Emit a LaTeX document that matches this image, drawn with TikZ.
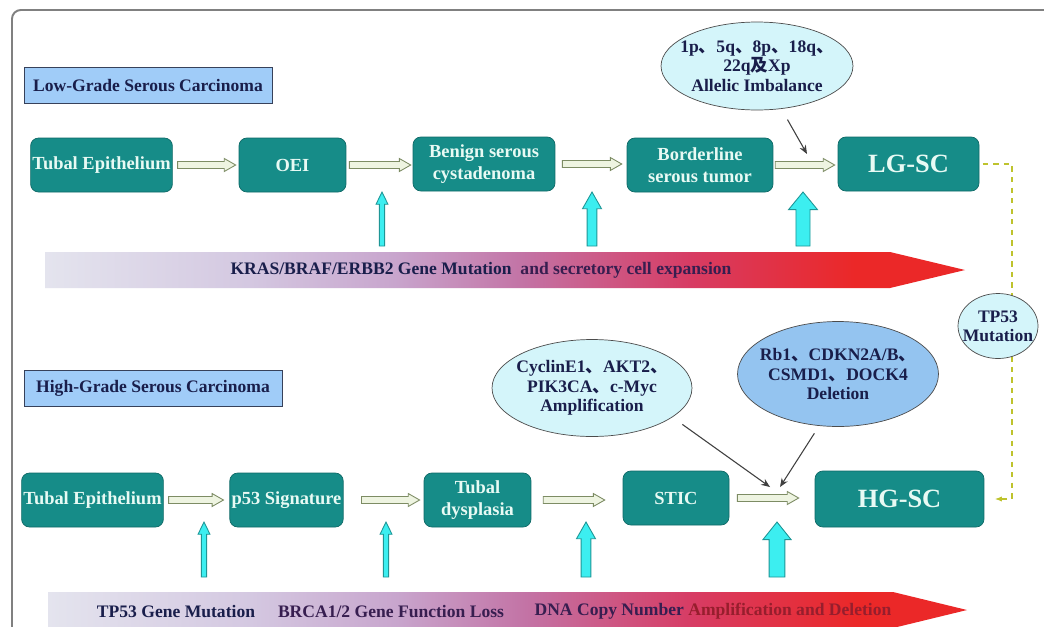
\documentclass[tikz,border=0pt]{standalone}
\usepackage{fontspec}
\setmainfont{Liberation Serif}
\newfontfamily\cjk{Noto Sans CJK SC}
\usetikzlibrary{shapes.geometric,arrows.meta,calc}

\definecolor{boxteal}{RGB}{22,140,136}
\definecolor{boxedge}{RGB}{14,105,102}
\definecolor{boxtext}{RGB}{232,250,244}
\definecolor{titlefill}{RGB}{160,204,248}
\definecolor{titleedge}{RGB}{55,65,90}
\definecolor{navytext}{RGB}{25,30,75}
\definecolor{gentext}{RGB}{55,30,80}
\definecolor{redtext}{RGB}{150,30,45}
\definecolor{pale}{RGB}{212,245,250}
\definecolor{paleblue}{RGB}{148,196,240}
\definecolor{hollowedge}{RGB}{125,140,100}
\definecolor{hollowfill}{RGB}{238,244,225}
\definecolor{cyanfill}{RGB}{60,238,240}
\definecolor{cyanedge}{RGB}{30,150,150}
\definecolor{mutline}{RGB}{190,195,45}
\definecolor{framegray}{RGB}{128,128,128}
\definecolor{bn0}{RGB}{228,228,238}
\definecolor{bn1}{RGB}{212,200,225}
\definecolor{bn2}{RGB}{200,165,205}
\definecolor{bn3}{RGB}{195,115,165}
\definecolor{bn4}{RGB}{215,60,100}
\definecolor{bn5}{RGB}{235,40,40}
\pgfdeclarehorizontalshading{banner}{100bp}{color(0bp)=(bn0); color(25bp)=(bn0); color(36bp)=(bn1); color(44bp)=(bn2); color(51bp)=(bn3); color(60bp)=(bn4); color(69bp)=(bn5); color(100bp)=(bn5)}

\begin{document}
\begin{tikzpicture}[
   x=0.02cm, y=-0.02cm,
   font=\bfseries,
   state/.style={draw=boxedge,fill=boxteal,text=boxtext,rounded corners=4.5pt,align=center,inner sep=1pt,minimum height=1.08cm,font=\bfseries\fontsize{10.5}{12.5}\selectfont},
   big/.style={font=\bfseries\fontsize{15}{18}\selectfont},
   heading/.style={draw=titleedge,fill=titlefill,text=navytext,minimum height=0.72cm,inner sep=1pt},
   gene/.style={ellipse,draw=black!70,fill=pale,text=navytext,align=center,inner sep=-5pt,font=\bfseries\fontsize{10}{11}\selectfont},
   bantext/.style={inner sep=0pt,font=\bfseries\fontsize{10}{12}\selectfont},
   to/.style={-{Stealth[length=5pt,width=4pt]},draw=black!75,semithick},
   hollow/.style={draw=hollowedge,fill=hollowfill,line width=0.5pt,
      to path={let \p1=(\tikztostart), \p2=(\tikztotarget) in
         (\x1,\y1+2pt) -- (\x2-6.5pt,\y1+2pt) -- (\x2-6.5pt,\y1+3.7pt) -- (\x2,\y1)
         -- (\x2-6.5pt,\y1-3.7pt) -- (\x2-6.5pt,\y1-2pt) -- (\x1,\y1-2pt) -- cycle}},
   up/.style n args={3}{draw=cyanedge,fill=cyanfill,line width=0.5pt,
      to path={let \p1=(\tikztostart), \p2=(\tikztotarget) in
         (\x1-#1,\y1) -- (\x1-#1,\y2-#3) -- (\x1-#2,\y2-#3) -- (\x1,\y2)
         -- (\x1+#2,\y2-#3) -- (\x1+#1,\y2-#3) -- (\x1+#1,\y1) -- cycle}},
   upthin/.style={up={1.5pt}{3.4pt}{7pt}},
   upmid/.style={up={2.8pt}{5.4pt}{9.5pt}},
   upwide/.style={up={4pt}{8.2pt}{10pt}},
   mut/.style={draw=mutline,dashed,semithick,-{Latex[length=4pt,width=3pt]}},
   band/.style={shading=banner}]
\useasboundingbox (0,0) rectangle (1044,626);
\clip (0,0) rectangle (1044,626);
\fill[white] (0,0) rectangle (1044,626);
\draw[framegray,line width=1.1pt,rounded corners=5pt] (12,640) -- (12,10) -- (1060,10);

% banners
\shade[band] (45,252) -- (890,252) -- (965,270) -- (890,288) -- (45,288) -- cycle;
\shade[band] (48,592) -- (893,592) -- (967,610) -- (893,628) -- (48,628) -- cycle;
\node[bantext] (kras) at (481,270) {\color{navytext}KRAS/BRAF/ERBB2 Gene Mutation\ \ \color{gentext}and secretory cell expansion};
\node[bantext,text=navytext] (tpm) at (176,611) {TP53 Gene Mutation};
\node[bantext,text=gentext] (brca) at (391,611) {BRCA1/2 Gene Function Loss};
\node[bantext] (dna) at (713,611) {\color{gentext}DNA Copy Number \color{redtext}Amplification and Deletion};

% low grade row
\node[heading,minimum width=4.96cm] (lowgrade) at (148,85.5) {Low-Grade Serous Carcinoma};
\node[state,minimum width=2.74cm] (tub1) at (101.5,165) {Tubal Epithelium};
\node[state,minimum width=2.14cm] (oei) at (292.5,165) {OEI};
\node[state,minimum width=2.84cm] (benign) at (484,164) {Benign serous\\cystadenoma};
\node[state,minimum width=2.92cm] (border) at (700,165) {Borderline\\serous tumor};
\node[state,big,minimum width=2.82cm] (lgsc) at (908.5,164) {LG-SC};
\node[gene,minimum width=3.48cm,minimum height=1.76cm] (imb) at (757,66) {1p{\cjk 、}5q{\cjk 、}8p{\cjk 、}18q{\cjk 、}\\22q{\cjk 及}Xp\\Allelic Imbalance};

\draw[hollow] ([xshift=2.8pt]tub1.east) to ([xshift=-1.7pt]oei.west);
\draw[hollow] ([xshift=1.7pt]oei.east) to ([xshift=-1.1pt]benign.west);
\draw[hollow] ([xshift=4pt]benign.east) to ([xshift=-2.8pt]border.west);
\draw[hollow] ([xshift=1.1pt]border.east) to ([xshift=-1.7pt]lgsc.west);

\coordinate (lg1) at (382,246); \coordinate (lg1t) at (382,192);
\coordinate (lg2) at (592,246); \coordinate (lg2t) at (592,192);
\coordinate (lg3) at (803,246); \coordinate (lg3t) at (803,192);
\draw[upthin] (lg1) to (lg1t);
\draw[upmid] (lg2) to (lg2t);
\draw[upwide] (lg3) to (lg3t);

\coordinate (lgin) at (807,154);
\draw[to,shorten <=7pt] (imb) -- (lgin);

% high grade row
\node[heading,minimum width=5.16cm] (highgrade) at (153,388) {High-Grade Serous Carcinoma};
\node[state,minimum width=2.74cm] (tub2) at (92.5,500) {Tubal Epithelium};
\node[state,minimum width=2.14cm] (p53) at (286.5,500) {p53 Signature};
\node[state,minimum width=2.14cm] (dysp) at (477.5,500) {Tubal\\dysplasia};
\node[state,minimum width=2.12cm] (stic) at (676,498) {STIC};
\node[state,big,minimum width=3.38cm,minimum height=1.12cm] (hgsc) at (899.5,499) {HG-SC};
\node[gene,minimum width=4cm,minimum height=1.94cm] (cyc) at (592,388) {CyclinE1{\cjk 、}AKT2{\cjk 、}\\PIK3CA{\cjk 、}c-Myc\\Amplification};
\node[gene,fill=paleblue,minimum width=4.02cm,minimum height=2.1cm] (rb) at (838,374) {Rb1{\cjk 、}CDKN2A/B{\cjk 、}\\CSMD1{\cjk 、}DOCK4\\Deletion};

\draw[hollow] ([xshift=2.8pt]tub2.east) to ([xshift=-3.4pt]p53.west);
\draw[hollow] ([xshift=10.2pt]p53.east) to ([xshift=-2.3pt]dysp.west);
\draw[hollow] ([xshift=6.8pt]dysp.east) to ([xshift=-10.2pt]stic.west);
\draw[hollow] ([xshift=4.6pt]stic.east) to ([xshift=-9.1pt]hgsc.west);

\coordinate (hg1) at (204,577); \coordinate (hg1t) at (204,522);
\coordinate (hg2) at (386,577); \coordinate (hg2t) at (386,522);
\coordinate (hg3) at (586,577); \coordinate (hg3t) at (586,522);
\coordinate (hg4) at (777,577); \coordinate (hg4t) at (777,522);
\draw[upthin] (hg1) to (hg1t);
\draw[upthin] (hg2) to (hg2t);
\draw[upmid] (hg3) to (hg3t);
\draw[upwide,up={4.5pt}{8pt}{10pt}] (hg4) to (hg4t);

\coordinate (hgin1) at (770,487);
\coordinate (hgin2) at (780,487);
\draw[to,shorten <=7pt] (cyc.-20) -- (hgin1);
\draw[to,shorten <=5pt] (rb.-110) -- (hgin2);

% tp53 link
\coordinate (turn) at (1012,164);
\draw[mut,shorten <=2pt,shorten >=6pt] (lgsc.east) -- (turn) |- (hgsc.east);
\node[gene,inner sep=-7pt,minimum width=1.6cm,minimum height=1.3cm] (tp53) at (998,326) {TP53\\Mutation};
\end{tikzpicture}
\end{document}
